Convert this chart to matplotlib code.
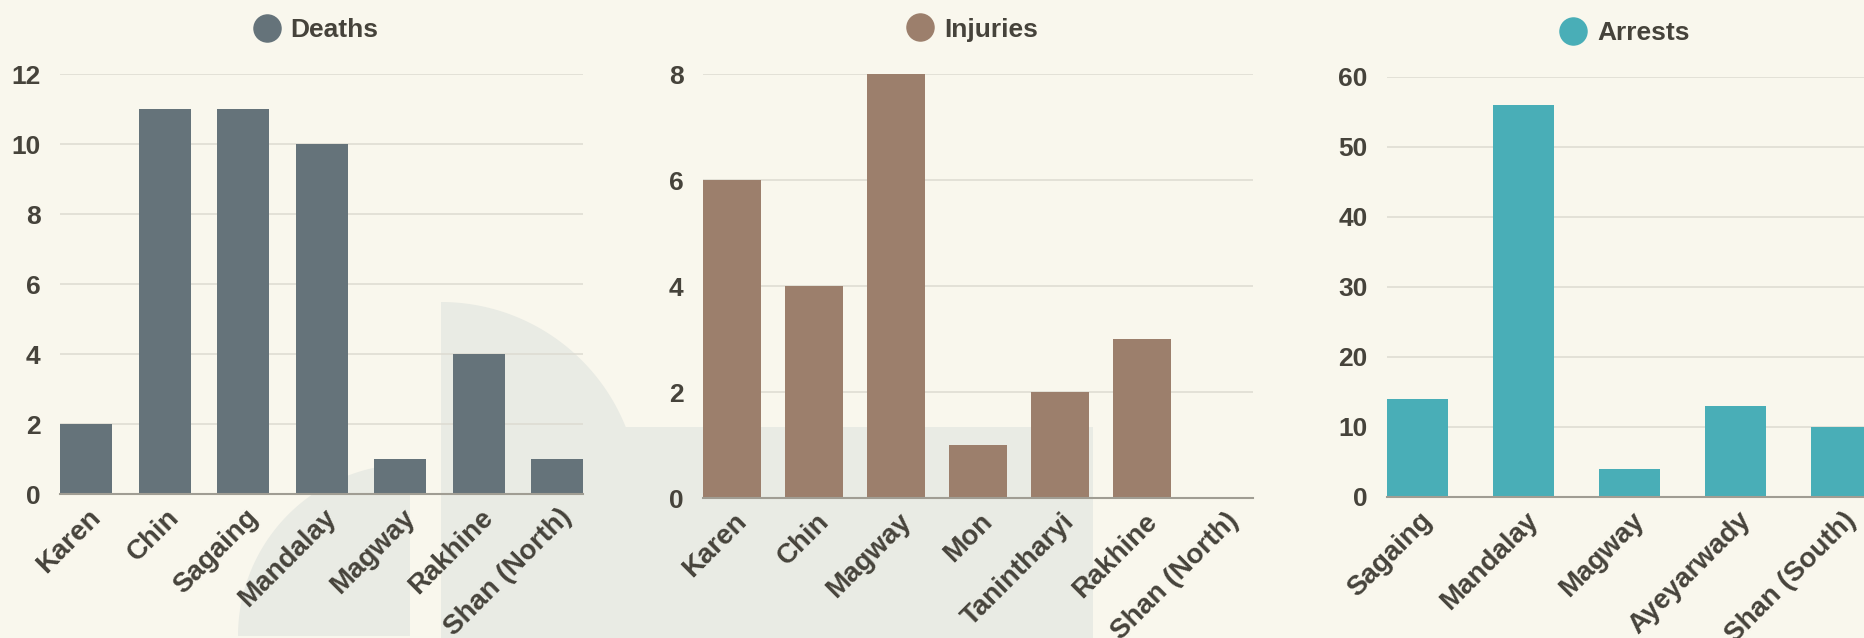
import numpy as np
import matplotlib
matplotlib.use("Agg")
import matplotlib.pyplot as plt
from matplotlib.lines import Line2D
from matplotlib.patches import Polygon, Rectangle
from matplotlib.transforms import ScaledTranslation

# ── data ─────────────────────────────────────────────────────────────────────
deaths_regions = ["Karen", "Chin", "Sagaing", "Mandalay", "Magway", "Rakhine", "Shan (North)"]
deaths = [2, 11, 11, 10, 1, 4, 1]

injury_regions = ["Karen", "Chin", "Magway", "Mon", "Tanintharyi", "Rakhine", "Shan (North)"]
injuries = [6, 4, 8, 1, 2, 3, 0]

arrest_regions = ["Sagaing", "Mandalay", "Magway", "Ayeyarwady", "Shan (South)"]
arrests = [14, 56, 4, 13, 10]

BG = "#f9f7ed"
SHAPE = "#e9ebe4"
TEXT = "#46433b"
GRID = "#dddbd1"
BASE = "#a09d93"

W, H = 1865, 638
plt.rcParams.update({"font.family": ["Liberation Sans", "DejaVu Sans"],
                     "font.weight": "bold"})

fig = plt.figure(figsize=(W / 100, H / 100), dpi=100, facecolor=BG)

# ── decorative background shapes (pixel space) ───────────────────────────────
bg = fig.add_axes([0, 0, 1, 1], zorder=0)
bg.set_xlim(0, W)
bg.set_ylim(H, 0)
bg.axis("off")
t = np.linspace(-np.pi / 2, 0, 200)
arc = np.column_stack([441 + 199 * np.cos(t), 501 + 199 * np.sin(t)])
right_shape = np.vstack([arc, [[640, H + 5], [441, H + 5]]])
bg.add_patch(Polygon(right_shape, closed=True, color=SHAPE, lw=0))
t = np.linspace(np.pi, 1.5 * np.pi, 200)
quarter = np.vstack([[[410, 636]], np.column_stack([410 + 172 * np.cos(t), 636 + 172 * np.sin(t)])])
bg.add_patch(Polygon(quarter, closed=True, color=SHAPE, lw=0))
bg.add_patch(Rectangle((600, 427), 493, 220, color=SHAPE, lw=0))


def place(left, top, right, bottom):
    return [left / W, 1 - bottom / H, (right - left) / W, (bottom - top) / H]


def bar_panel(box, labels, values, color, name, ymax, ystep, width):
    ax = fig.add_axes(place(*box), zorder=1)
    ax.patch.set_alpha(0)
    x = np.arange(len(labels))
    ax.bar(x, values, width=width, color=color, zorder=2)
    ax.set_xlim(-width / 2, len(labels) - 1 + width / 2)
    ax.set_ylim(0, ymax)
    ax.set_yticks(np.arange(0, ymax + 1, ystep))
    ax.grid(axis="y", color=GRID, lw=1.1, zorder=0)
    ax.set_axisbelow(True)
    for s in ["left", "right", "top"]:
        ax.spines[s].set_visible(False)
    ax.spines["bottom"].set_color(BASE)
    ax.spines["bottom"].set_linewidth(1.5)
    ax.spines["bottom"].set_zorder(3)
    ax.tick_params(length=0, labelsize=19, labelcolor=TEXT)
    ax.tick_params(axis="y", pad=14)
    ax.tick_params(axis="x", pad=14, labelsize=20)
    ax.set_xticks(x)
    ax.set_xticklabels(labels, rotation=45, ha="right", va="center",
                       rotation_mode="anchor")
    shift = ScaledTranslation(11 / 100, 0, fig.dpi_scale_trans)
    for lab in ax.get_xticklabels():
        lab.set_transform(lab.get_transform() + shift)
    handle = Line2D([], [], marker="o", ls="", markersize=19.5, color=color)
    ax.legend([handle], [name], loc="center", bbox_to_anchor=(0.49, 1 + 44 / 420),
              frameon=False, fontsize=19, labelcolor=TEXT, handletextpad=0.4,
              handlelength=1.0, borderaxespad=0)
    return ax


bar_panel((60, 74, 583, 494), deaths_regions, deaths, "#65737a", "Deaths", 12, 2, 52 / 78.5)
bar_panel((703, 74, 1253, 498), injury_regions, injuries, "#9c7f6c", "Injuries", 8, 2, 58 / 82)
bar_panel((1387, 77, 1872, 497), arrest_regions, arrests, "#49aeb7", "Arrests", 60, 10, 61 / 106)

fig.savefig("out.png", dpi=100, facecolor=BG)
